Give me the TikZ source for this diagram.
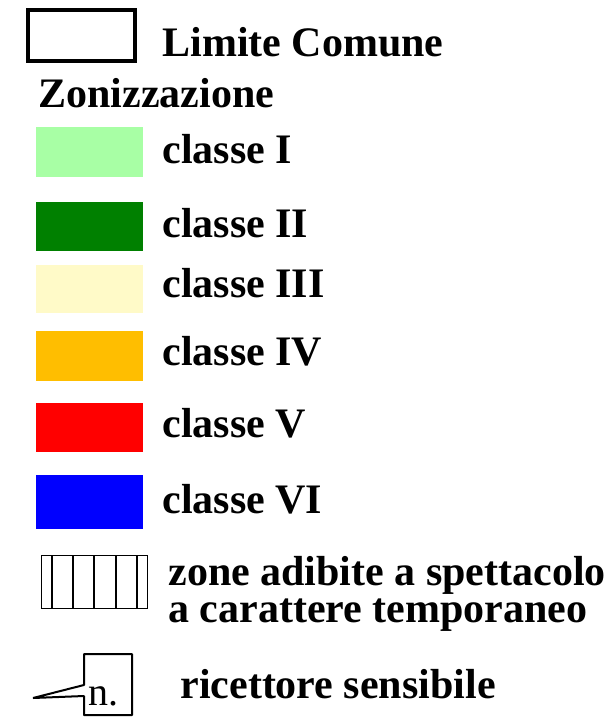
\documentclass[tikz,border=0pt]{standalone}
\usepackage{fontspec}
\setmainfont{Liberation Serif}
\usepackage{xcolor}
\usepackage{tikz}
\usetikzlibrary{positioning}

\definecolor{classeI}{RGB}{168,255,165}
\definecolor{classeII}{RGB}{0,128,0}
\definecolor{classeIII}{RGB}{255,250,200}
\definecolor{classeIV}{RGB}{255,190,0}
\definecolor{classeV}{RGB}{255,0,0}
\definecolor{classeVI}{RGB}{0,0,255}

\begin{document}
\begin{tikzpicture}[x=0.5pt, y=-0.5pt]
\useasboundingbox (0,0) rectangle (615,722);

\begin{scope}[line width=2pt]
    \draw (28,10) rectangle (135,61);
\end{scope}

\begin{scope}[every node/.style={inner sep=0pt, anchor=base west, font=\fontsize{21}{18.5}\selectfont\bfseries}]
    \node (limite) at (162,57) {Limite Comune};
    \node (zoniz) at (38,107) {Zonizzazione};
    \node (c1) at (162,163) {classe I};
    \node (c2) at (162,237) {classe II};
    \node (c3) at (162,297) {classe III};
    \node (c4) at (162,365) {classe IV};
    \node (c5) at (162,437) {classe V};
    \node (c6) at (162,513) {classe VI};
    \node[align=left] (zone) at (168,622) {zone adibite a spettacolo\\a carattere temporaneo};
    \node (ricet) at (180,698) {ricettore sensibile};
\end{scope}

\begin{scope}
    \fill[classeI] (36,127) rectangle (143,177);
    \fill[classeII] (36,202) rectangle (143,251);
    \fill[classeIII] (36,265) rectangle (143,313);
    \fill[classeIV] (36,331) rectangle (143,381);
    \fill[classeV] (36,403) rectangle (143,452);
    \fill[classeVI] (36,475) rectangle (143,529);
\end{scope}

\begin{scope}
    \draw[line width=0.5pt] (41,555) rectangle (147,608);
    \draw[line width=1.2pt] (52,555) -- (52,608);
    \draw[line width=1.2pt] (73,555) -- (73,608);
    \draw[line width=1.2pt] (94,555) -- (94,608);
    \draw[line width=1.2pt] (116,555) -- (116,608);
    \draw[line width=1.2pt] (137,555) -- (137,608);
\end{scope}

\begin{scope}[line width=1pt, line join=bevel]
    \draw (84,654) -- (132,654) -- (132,715) -- (84,715) -- (84,696) -- (33,698) -- (84,685) -- cycle;
    \node[inner sep=0pt, anchor=base west, font=\fontsize{20}{22}\selectfont] (num) at (87,705) {n.};
\end{scope}

\end{tikzpicture}
\end{document}
